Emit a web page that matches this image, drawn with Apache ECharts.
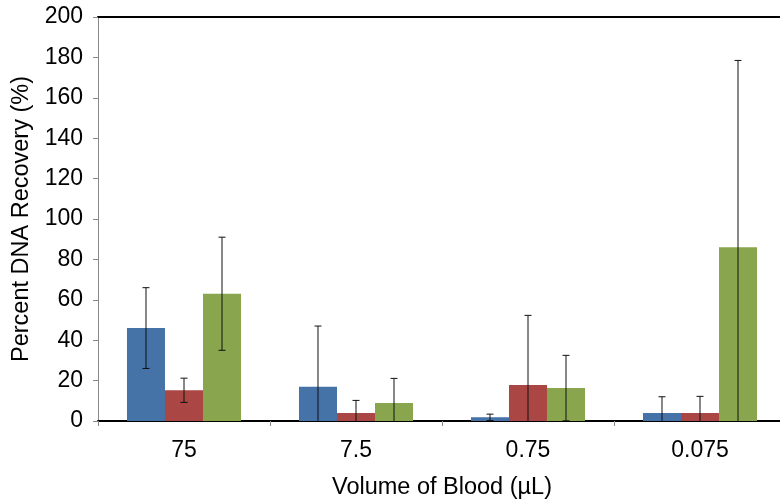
<!DOCTYPE html>
<html>
<head>
<meta charset="utf-8">
<script src="https://cdn.jsdelivr.net/npm/echarts@6/dist/echarts.min.js"></script>
<style>html,body{margin:0;padding:0;background:#fff;}#c{width:780px;height:500px;}</style>
</head>
<body>
<div id="c"></div>
<script>
var categories = ['75', '7.5', '0.75', '0.075'];
var blueValues = [46, 17, 1.8, 4];
var redValues = [15.2, 4, 17.8, 4];
var greenValues = [63, 8.9, 16.3, 86];
var blueErr = [20, 30, 1.6, 8];
var redErr = [6, 6.2, 34.5, 8.2];
var greenErr = [28, 12.2, 16.2, 92.5];
var yTicks = [0, 20, 40, 60, 80, 100, 120, 140, 160, 180, 200];

var colors = ['#4572A7', '#AA4643', '#89A54E'];
var GAP = 0.337;
var FONT = 'Liberation Sans, Arial, sans-serif';

function errSeries(values, errs, idx) {
  var data = values.map(function (v, i) { return [i, v, errs[i]]; });
  return {
    type: 'custom',
    silent: true,
    clip: true,
    z: 10,
    data: data,
    renderItem: function (params, api) {
      var i = api.value(0), v = api.value(1), e = api.value(2);
      var band = api.size([1, 0])[0];
      var bw = band * (1 - GAP) / 3;
      var c = api.coord([i, v]);
      var x = c[0] + (idx - 1) * bw;
      var hi = api.coord([i, v + e])[1];
      var lo = api.coord([i, v - e])[1];
      var hw = 3.5;
      var style = { stroke: '#111', lineWidth: 1 };
      return {
        type: 'group',
        children: [
          { type: 'line', shape: { x1: x, y1: lo, x2: x, y2: hi }, style: style },
          { type: 'line', shape: { x1: x - hw, y1: hi, x2: x + hw, y2: hi }, style: style },
          { type: 'line', shape: { x1: x - hw, y1: lo, x2: x + hw, y2: lo }, style: style }
        ]
      };
    }
  };
}

var chart = echarts.init(document.getElementById('c'));
chart.setOption({
  animation: false,
  textStyle: { fontFamily: FONT },
  grid: { left: 98, right: -6, top: 17, bottom: 79, containLabel: false, outerBoundsMode: 'none' },
  xAxis: [{
    type: 'category',
    data: categories,
    name: 'Volume of Blood (µL)',
    nameLocation: 'middle',
    nameGap: 55,
    nameTextStyle: { fontFamily: FONT, fontSize: 23.5, color: '#000' },
    axisLine: { show: true, lineStyle: { color: '#000', width: 2 } },
    axisTick: { show: true, length: 5, lineStyle: { color: '#888' } },
    axisLabel: { fontFamily: FONT, fontSize: 23, color: '#000', margin: 18 },
    splitLine: { show: false }
  }, {
    type: 'category',
    position: 'top',
    data: categories,
    axisLine: { show: true, lineStyle: { color: '#000', width: 2 } },
    axisTick: { show: false },
    axisLabel: { show: false },
    splitLine: { show: false }
  }],
  yAxis: {
    type: 'value',
    min: yTicks[0],
    max: yTicks[yTicks.length - 1],
    interval: yTicks[1] - yTicks[0],
    name: 'Percent DNA Recovery (%)',
    nameLocation: 'middle',
    nameGap: 63,
    nameRotate: 90,
    nameTextStyle: { fontFamily: FONT, fontSize: 23.5, color: '#000' },
    axisLine: { show: true, lineStyle: { color: '#888', width: 1 } },
    axisTick: { show: true, length: 5, inside: false, lineStyle: { color: '#888' } },
    axisLabel: { fontFamily: FONT, fontSize: 23, color: '#000', margin: 15 },
    splitLine: { show: false }
  },
  series: [
    { name: 'Series 1', type: 'bar', data: blueValues, itemStyle: { color: colors[0] }, barGap: '0%', barCategoryGap: (GAP * 100) + '%' },
    { name: 'Series 2', type: 'bar', data: redValues, itemStyle: { color: colors[1] }, barGap: '0%', barCategoryGap: (GAP * 100) + '%' },
    { name: 'Series 3', type: 'bar', data: greenValues, itemStyle: { color: colors[2] }, barGap: '0%', barCategoryGap: (GAP * 100) + '%' },
    errSeries(blueValues, blueErr, 0),
    errSeries(redValues, redErr, 1),
    errSeries(greenValues, greenErr, 2)
  ]
});
</script>
</body>
</html>
